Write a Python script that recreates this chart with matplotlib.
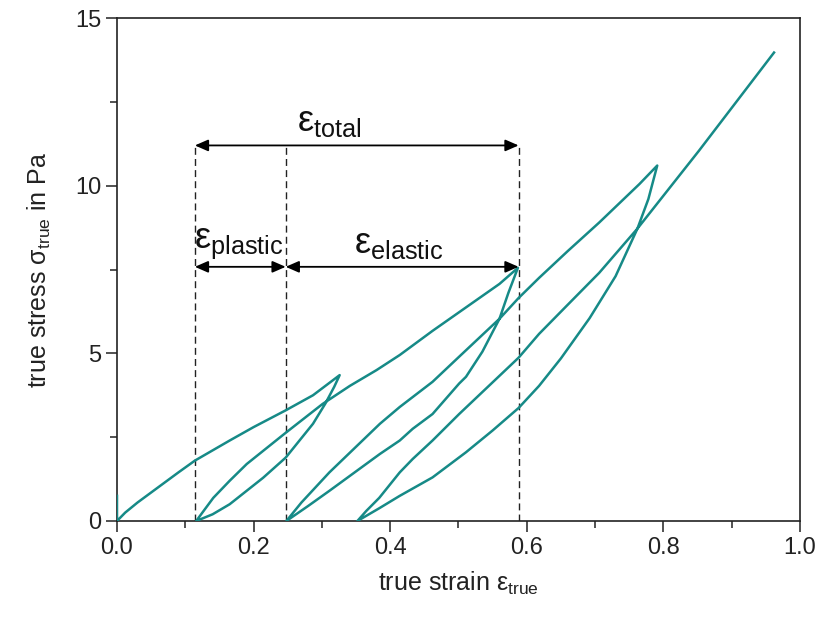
import matplotlib
matplotlib.use("Agg")
import matplotlib.pyplot as plt
from matplotlib.ticker import MultipleLocator

plt.rcParams['font.family'] = ['Liberation Sans', 'DejaVu Sans']
plt.rcParams['mathtext.fontset'] = 'custom'
plt.rcParams['mathtext.rm'] = 'Liberation Sans'
plt.rcParams['mathtext.it'] = 'Liberation Sans'
plt.rcParams['mathtext.bf'] = 'Liberation Sans:bold'

strain_load1 = [0.0, 0.0, 0.012, 0.03, 0.06, 0.09, 0.114, 0.165, 0.2, 0.247, 0.287, 0.326]
stress_load1 = [0.75, 0.0, 0.25, 0.55, 1.0, 1.45, 1.8, 2.4, 2.8, 3.3, 3.75, 4.35]

strain_unload1 = [0.318, 0.305, 0.287, 0.247, 0.214, 0.165, 0.14, 0.116]
stress_unload1 = [4.0, 3.5, 2.9, 1.89, 1.29, 0.5, 0.2, 0.0]

strain_reload1 = [0.125, 0.141, 0.165, 0.19, 0.247, 0.301, 0.341, 0.38, 0.414,
                  0.462, 0.511, 0.56, 0.587]
stress_reload1 = [0.25, 0.69, 1.2, 1.7, 2.63, 3.49, 4.03, 4.5, 4.95,
                  5.67, 6.37, 7.07, 7.55]

strain_unload2 = [0.573, 0.56, 0.535, 0.511, 0.501, 0.462, 0.433, 0.414, 0.385,
                  0.311, 0.28, 0.248]
stress_unload2 = [6.8, 6.03, 5.05, 4.3, 4.1, 3.19, 2.75, 2.4, 2.0,
                  0.9, 0.45, 0.0]

strain_reload2 = [0.27, 0.311, 0.385, 0.414, 0.462, 0.501, 0.56, 0.588, 0.618,
                  0.66, 0.706, 0.765, 0.791]
stress_reload2 = [0.55, 1.45, 2.9, 3.4, 4.15, 4.9, 6.03, 6.65, 7.25,
                  8.05, 8.9, 10.05, 10.6]

strain_unload3 = [0.778, 0.762, 0.73, 0.692, 0.65, 0.618, 0.588, 0.55, 0.511,
                  0.462, 0.414, 0.384, 0.352]
stress_unload3 = [9.6, 8.72, 7.3, 6.05, 4.85, 4.03, 3.37, 2.7, 2.05,
                  1.3, 0.75, 0.38, 0.0]

strain_reload3 = [0.365, 0.384, 0.414, 0.433, 0.462, 0.501, 0.588, 0.618, 0.66,
                  0.706, 0.762, 0.852, 0.962]
stress_reload3 = [0.3, 0.69, 1.45, 1.85, 2.4, 3.19, 4.87, 5.58, 6.45,
                  7.4, 8.72, 11.04, 13.97]

strain = (strain_load1 + strain_unload1 + strain_reload1 + strain_unload2
          + strain_reload2 + strain_unload3 + strain_reload3)
stress = (stress_load1 + stress_unload1 + stress_reload1 + stress_unload2
          + stress_reload2 + stress_unload3 + stress_reload3)

# strain split of the second cycle
eps_start = 0.114
eps_residual = 0.247
eps_peak = 0.588
arrow_total_y = 11.2
arrow_split_y = 7.58

fig = plt.figure(figsize=(8.21, 6.17), dpi=100)
ax = fig.add_axes([0.1425, 0.1556, 0.8319, 0.8152])

ax.plot(strain, stress, color='#168a87', lw=1.8, zorder=3)

for x in (eps_start, eps_residual, eps_peak):
    ax.plot([x, x], [0, arrow_total_y], color='#222222', lw=1.0,
            ls=(0, (5, 3)), zorder=2)

arrow_kw = dict(arrowstyle='<|-|>,head_length=0.8,head_width=0.35',
                color='black', lw=1.3, shrinkA=0, shrinkB=0)
ax.annotate('', xy=(eps_peak, arrow_total_y), xytext=(eps_start, arrow_total_y),
            arrowprops=arrow_kw)
ax.annotate('', xy=(eps_residual, arrow_split_y), xytext=(eps_start, arrow_split_y),
            arrowprops=arrow_kw)
ax.annotate('', xy=(eps_peak, arrow_split_y), xytext=(eps_residual, arrow_split_y),
            arrowprops=arrow_kw)

ax.text(0.311, 11.4, r'$\mathrm{ε_{total}}$', fontsize=26, ha='center',
        va='bottom', color='#111111')
ax.text(0.178, 7.75, r'$\mathrm{ε_{plastic}}$', fontsize=26, ha='center',
        va='bottom', color='#111111')
ax.text(0.412, 7.75, r'$\mathrm{ε_{elastic}}$', fontsize=26, ha='center',
        va='bottom', color='#111111')

ax.set_xlim(0, 1.0)
ax.set_ylim(0, 15)
ax.xaxis.set_major_locator(MultipleLocator(0.2))
ax.xaxis.set_minor_locator(MultipleLocator(0.1))
ax.yaxis.set_major_locator(MultipleLocator(5))
ax.yaxis.set_minor_locator(MultipleLocator(2.5))
ax.xaxis.set_major_formatter(plt.FuncFormatter(lambda v, p: f"{v:.1f}"))
ax.yaxis.set_major_formatter(plt.FuncFormatter(lambda v, p: f"{v:.0f}"))

ax.tick_params(which='major', direction='out', length=8, width=1.1,
               labelsize=17, colors='#222222', top=False, right=False)
ax.tick_params(which='minor', direction='out', length=5, width=1.1,
               top=False, right=False, colors='#222222')
for s in ax.spines.values():
    s.set_linewidth(1.2)
    s.set_color('#222222')

ax.set_xlabel(r'true strain $\mathrm{ε_{true}}$', fontsize=18, color='#222222',
              labelpad=8)
ax.set_ylabel(r'true stress $\mathrm{σ_{true}}$ in Pa', fontsize=18,
              color='#222222', labelpad=16)

fig.savefig('out.png', dpi=100)
